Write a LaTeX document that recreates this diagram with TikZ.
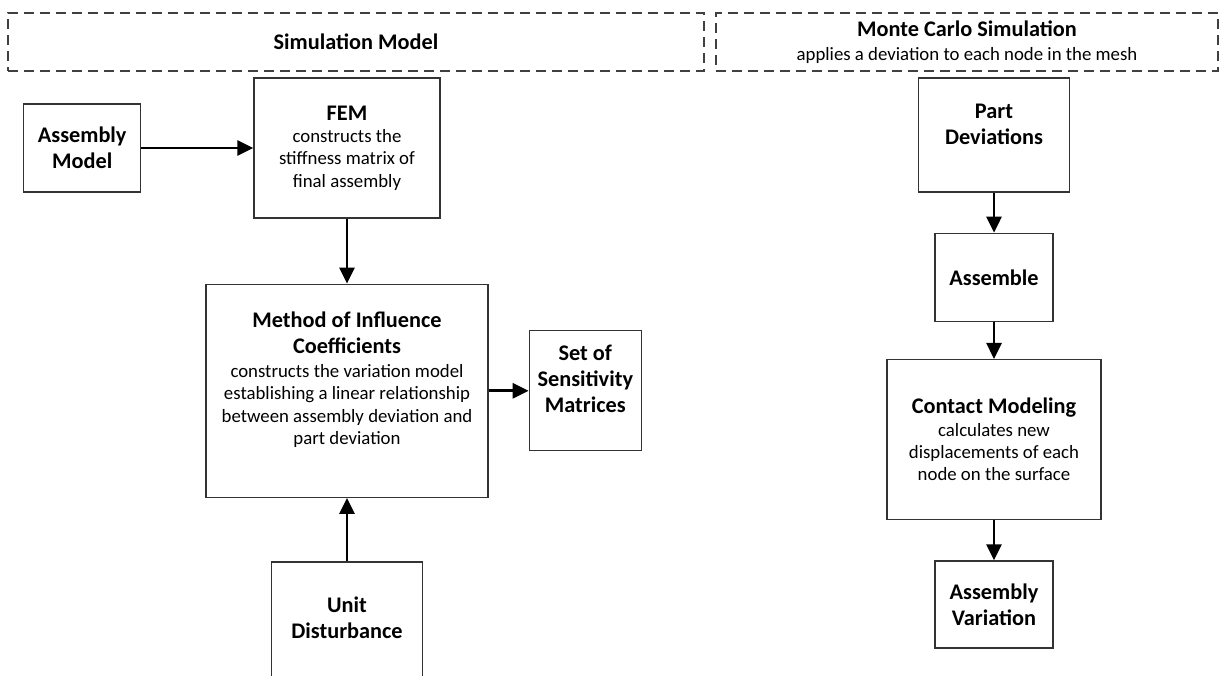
\documentclass[tikz,border=0pt]{standalone}
\usepackage{fontspec}
\setmainfont{Carlito}
\usetikzlibrary{arrows.meta,positioning}

\newcommand{\titlefont}{\fontsize{22.3}{26}\selectfont\bfseries}
\newcommand{\bodyfont}{\fontsize{18.8}{22.3}\selectfont}

\tikzset{
  block/.style={rectangle, draw=black!80, line width=1.3pt, align=center, inner sep=0pt, font=\titlefont},
  blockbody/.style={block, font=\bodyfont},
  blocktext/.style={align=center, inner sep=0pt},
  header/.style={rectangle, draw=black!75, line width=1.2pt, dash pattern=on 10pt off 6pt, align=center, inner sep=0pt},
  flow/.style={-{Triangle[length=16pt,width=15pt]}, line width=2.8pt},
}

\begin{document}
\begin{tikzpicture}[x=1pt, y=-1pt]
		\clip (0,0) rectangle (1220,675);
		% headers
		\node at (356,42) [header, minimum width=696pt, minimum height=58pt, font=\titlefont] (simhdr) {Simulation Model};
		\node at (967,42) [header, minimum width=502pt, minimum height=58pt, font=\bodyfont] (mchdr) {{\titlefont Monte Carlo Simulation}\\[1.5pt] applies a deviation to each node in the mesh};
		% simulation model
		\node at (347,148) [blockbody, minimum width=186pt, minimum height=140pt] (fem) {{\titlefont FEM}\\ constructs the\\ stiffness matrix of\\ final assembly};
		\node[block, minimum width=117pt, minimum height=88pt] (asm) [left=112pt of fem] {Assembly\\ Model};
		\node[block, minimum width=282pt, minimum height=213pt] (mic) [below=65pt of fem] {};
		\node at ([yshift=11pt]mic.center) [blocktext, font=\bodyfont] (mictxt) {{\titlefont Method of Influence}\\[3.7pt] {\titlefont Coefficients}\\[1.7pt] constructs the variation model\\ establishing a linear relationship\\ between assembly deviation and\\ part deviation};
		\node[block, minimum width=112pt, minimum height=120pt] (sens) [right=40pt of mic] {};
		\node at ([yshift=12pt]sens.center) [blocktext, font=\titlefont] (senstxt) {Set of\\ Sensitivity\\ Matrices};
		\node at (347,631) [block, minimum width=151pt, minimum height=138pt] (unit) {};
		\node at (347,618) [blocktext, font=\titlefont] (unittxt) {Unit\\ Disturbance};
		% monte carlo simulation
		\node at (994,135) [block, minimum width=151pt, minimum height=114pt] (part) {};
		\node at ([yshift=11pt]part.center) [blocktext, font=\titlefont] (parttxt) {Part\\ Deviations};
		\node[block, minimum width=118pt, minimum height=88pt] (assem) [below=40pt of part] {Assemble};
		\node[blockbody, minimum width=214pt, minimum height=160pt] (contact) [below=37pt of assem] {{\titlefont Contact Modeling}\\ calculates new\\ displacements of each\\ node on the surface};
		\node[block, minimum width=118pt, minimum height=87pt] (var) [below=40pt of contact] {Assembly\\ Variation};
		% arrows
		\draw[flow] (asm) -- (fem);
		\draw[flow] (fem) -- (mic);
		\draw[flow] (unit) -- (mic);
		\draw[flow] (mic) -- (sens);
		\draw[flow] (part) -- (assem);
		\draw[flow] (assem) -- (contact);
		\draw[flow] (contact) -- (var);
\end{tikzpicture}
\end{document}
